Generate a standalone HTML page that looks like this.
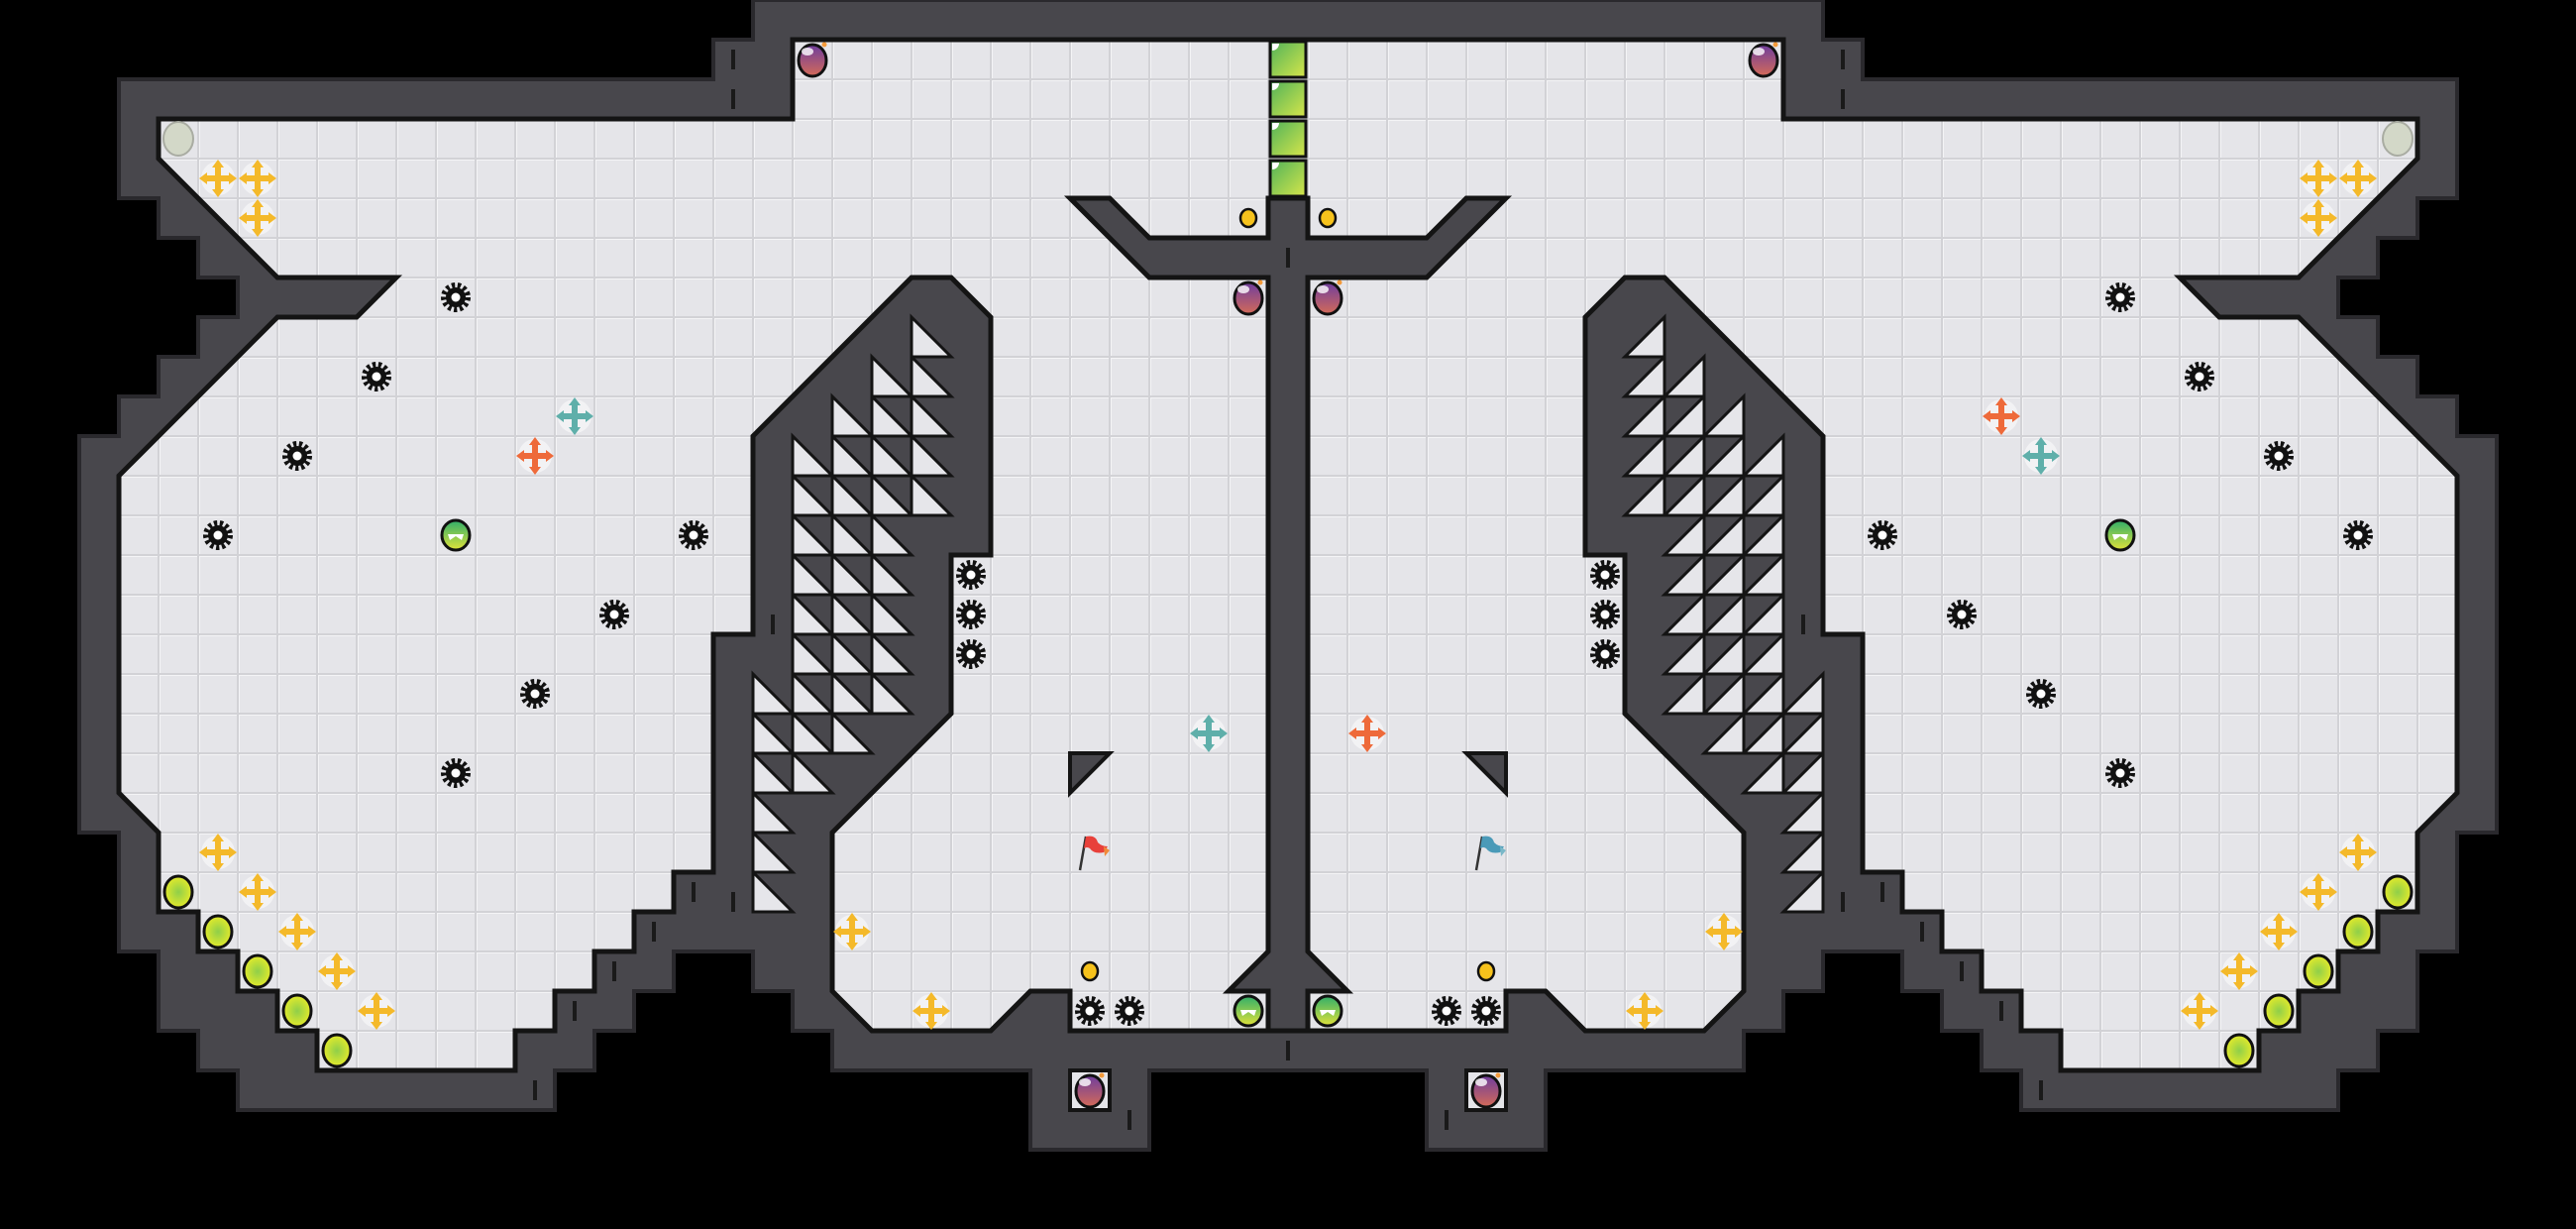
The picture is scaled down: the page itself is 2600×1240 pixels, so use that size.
<!DOCTYPE html>
<html><head><meta charset="utf-8"><style>html,body{margin:0;padding:0;background:#000;width:2600px;height:1240px;overflow:hidden}</style></head>
<body>
<svg id="s" xmlns="http://www.w3.org/2000/svg" width="2600" height="1240" viewBox="0 0 2600 1240">
<defs>
<pattern id="grid" width="40" height="40" patternUnits="userSpaceOnUse">
<rect width="40" height="40" fill="#d2d2d6"/>
<rect x="1" y="1" width="38" height="38" fill="#f4f4f6"/>
<rect x="2" y="2" width="37" height="37" fill="#e5e5e9"/>
</pattern>
<linearGradient id="bomb" x1="0" y1="0" x2="0" y2="1"><stop offset="0" stop-color="#6e3d9e"/><stop offset="1" stop-color="#d46a58"/></linearGradient>
<linearGradient id="mon" x1="0" y1="0" x2="0" y2="1"><stop offset="0" stop-color="#2fae6a"/><stop offset="1" stop-color="#e0e23a"/></linearGradient>
<linearGradient id="blk" x1="0" y1="0" x2="1" y2="1"><stop offset="0" stop-color="#4fb25a"/><stop offset="1" stop-color="#d8e64a"/></linearGradient>
<radialGradient id="yg"><stop offset="0" stop-color="#8fcf4a"/><stop offset="1" stop-color="#e4ea2a"/></radialGradient>
</defs>
</svg>
<script>
const NS='http://www.w3.org/2000/svg';
const svg=document.getElementById('s');
function el(t,a,p){const e=document.createElementNS(NS,t);for(const k in a)e.setAttribute(k,a[k]);(p||svg).appendChild(e);return e;}
function full(L){const R=L.slice(1,-1).reverse().map(([x,y])=>[2600-x,y]);return L.concat(R).map(p=>p.join(',')).join(' ');}
const hullL=[[1300,0],[760,0],[760,40],[720,40],[720,80],[120,80],[120,200],[160,200],[160,240],[200,240],[200,280],[240,280],[240,320],[200,320],[200,360],[160,360],[160,400],[120,400],[120,440],[80,440],[80,840],[120,840],[120,960],[160,960],[160,1040],[200,1040],[200,1080],[240,1080],[240,1120],[560,1120],[560,1080],[600,1080],[600,1040],[640,1040],[640,1000],[680,1000],[680,960],[760,960],[760,1000],[800,1000],[800,1040],[840,1040],[840,1080],[1040,1080],[1040,1160],[1160,1160],[1160,1080],[1300,1080]];
const floorL=[[1300,40],[800,40],[800,120],[160,120],[160,160],[280,280],[400,280],[360,320],[280,320],[120,480],[120,800],[160,840],[160,920],[200,920],[200,960],[240,960],[240,1000],[280,1000],[280,1040],[320,1040],[320,1080],[520,1080],[520,1040],[560,1040],[560,1000],[600,1000],[600,960],[640,960],[640,920],[680,920],[680,880],[720,880],[720,640],[760,640],[760,440],[920,280],[960,280],[1000,320],[1000,560],[960,560],[960,720],[840,840],[840,1000],[880,1040],[1000,1040],[1040,1000],[1080,1000],[1080,1040],[1300,1040]];
el('polygon',{points:full(hullL),fill:'#48474c',stroke:'#2a292d','stroke-width':4});
el('polygon',{points:full(floorL),fill:'url(#grid)',stroke:'#141414','stroke-width':5,'stroke-linejoin':'miter'});
[[1080,1080],[1480,1080]].forEach(([x,y])=>el('rect',{x:x,y:y,width:40,height:40,fill:'url(#grid)',stroke:'#141414','stroke-width':4}));
el('polygon',{points:'1080,200 1120,200 1160,240 1280,240 1280,200 1320,200 1320,240 1440,240 1480,200 1520,200 1440,280 1320,280 1320,960 1360,1000 1320,1000 1320,1040 1280,1040 1280,1000 1240,1000 1280,960 1280,280 1160,280',fill:'#48474c',stroke:'#141414','stroke-width':5});
el('polygon',{points:'1080,760 1120,760 1080,800',fill:'#48474c',stroke:'#141414','stroke-width':4});
el('polygon',{points:'1520,760 1480,760 1520,800',fill:'#48474c',stroke:'#141414','stroke-width':4});
const tri={8:[23],9:[22,23],10:[21,22,23],11:[20,21,22,23],12:[20,21,22,23],13:[20,21,22],14:[20,21,22],15:[20,21,22],16:[20,21,22],17:[19,20,21,22],18:[19,20,21],19:[19,20],20:[19],21:[19],22:[19]};
for(const r in tri){tri[r].forEach(c=>{const x=c*40,y=r*40;
el('polygon',{points:`${x},${y} ${x},${y+40} ${x+40},${y+40}`,fill:'#e6e6ea',stroke:'#141414','stroke-width':3});
const X=2600-x;el('polygon',{points:`${X},${y} ${X},${y+40} ${X-40},${y+40}`,fill:'#e6e6ea',stroke:'#141414','stroke-width':3});});}
[[740,50,70],[740,90,110],[1300,250,270],[1300,1050,1070],[700,890,910],[660,930,950],[620,970,990],[580,1010,1030],[540,1090,1110],[780,620,640],[740,900,920],[1140,1120,1140]].forEach(([x,a,b])=>{el('line',{x1:x,y1:a,x2:x,y2:b,stroke:'#1a1a1a','stroke-width':4});el('line',{x1:2600-x,y1:a,x2:2600-x,y2:b,stroke:'#1a1a1a','stroke-width':4});});
const C=c=>c*40+20;
function gear(c,r){const x=C(c),y=C(r);el('circle',{cx:x,cy:y,r:12,fill:'none',stroke:'#111','stroke-width':6,'stroke-dasharray':'3.2 2.6'});el('circle',{cx:x,cy:y,r:10,fill:'#111'});el('circle',{cx:x,cy:y,r:4.5,fill:'#fff'});}
function cross(c,r,col){const x=C(c),y=C(r);el('circle',{cx:x,cy:y,r:17,fill:'#ffffff',opacity:.5});
el('line',{x1:x-12,y1:y,x2:x+12,y2:y,stroke:col,'stroke-width':6});el('line',{x1:x,y1:y-12,x2:x,y2:y+12,stroke:col,'stroke-width':6});
el('polygon',{points:`${x-19},${y} ${x-11},${y-6} ${x-11},${y+6}`,fill:col});el('polygon',{points:`${x+19},${y} ${x+11},${y-6} ${x+11},${y+6}`,fill:col});
el('polygon',{points:`${x},${y-19} ${x-6},${y-11} ${x+6},${y-11}`,fill:col});el('polygon',{points:`${x},${y+19} ${x-6},${y+11} ${x+6},${y+11}`,fill:col});}
function bomb(c,r){const x=C(c),y=C(r);el('ellipse',{cx:x,cy:y+1,rx:14,ry:16,fill:'url(#bomb)',stroke:'#111','stroke-width':3});el('ellipse',{cx:x-5,cy:y-8,rx:6,ry:4,fill:'#fff',opacity:.8});el('circle',{cx:x+12,cy:y-15,r:2.5,fill:'#f39a3a'});}
function mon(c,r){const x=C(c),y=C(r);el('ellipse',{cx:x,cy:y,rx:14,ry:15,fill:'url(#mon)',stroke:'#111','stroke-width':3});el('polygon',{points:`${x-8},${y-1} ${x+8},${y-1} ${x+6},${y+5} ${x},${y+1} ${x-6},${y+5}`,fill:'#fff'});}
function yg(c,r){const x=C(c),y=C(r);el('ellipse',{cx:x,cy:y,rx:14,ry:16,fill:'url(#yg)',stroke:'#111','stroke-width':3});}
function gray(c,r){const x=C(c),y=C(r);el('ellipse',{cx:x,cy:y,rx:15,ry:17,fill:'#d3d8c8',stroke:'#a9aca2','stroke-width':2});}
function coin(c,r){const x=C(c),y=C(r);el('ellipse',{cx:x,cy:y,rx:8,ry:9,fill:'#f6c21c',stroke:'#111','stroke-width':2.5});}
function flag(c,r,col,col2){const x=C(c),y=C(r);el('line',{x1:x-10,y1:y+18,x2:x-4,y2:y-16,stroke:'#333','stroke-width':2.5});el('path',{d:`M${x-4},${y-16} q10,-2 12,6 q4,4 10,4 l-4,6 q-10,2 -14,-4 q-3,-2 -6,0 z`,fill:col});el('path',{d:`M${x+14},${y-6} l6,4 l-5,6 z`,fill:col2});}
const M=c=>64-c;
const Y='#f4b92a',O='#ee6a3a',T='#5fafaa';
const sym=(f,list,...a)=>list.forEach(([c,r])=>{f(c,r,...a);f(M(c),r,...a);});
sym(gray,[[4,3]]);
sym(cross,[[5,4],[6,4],[6,5],[5,21],[6,22],[7,23],[8,24],[9,25],[21,23],[23,25]],Y);
sym(bomb,[[20,1],[31,7],[27,27]]);
sym(coin,[[31,5],[27,24]]);
sym(gear,[[11,7],[9,9],[7,11],[5,13],[17,13],[15,15],[13,17],[11,19],[24,14],[24,15],[24,16],[27,25],[28,25]]);
sym(mon,[[11,13],[31,25]]);
sym(yg,[[4,22],[5,23],[6,24],[7,25],[8,26]]);
[[14,10],[30,18],[51,11]].forEach(([c,r])=>cross(c,r,T));
[[13,11],[34,18],[50,10]].forEach(([c,r])=>cross(c,r,O));
flag(27,21,'#e8403a','#f08a3a');flag(37,21,'#4a9ab8','#7ab8c8');
for(let r=1;r<=4;r++){const y=r*40+2;el('rect',{x:1282,y:y,width:36,height:36,fill:'url(#blk)',stroke:'#111','stroke-width':3});el('path',{d:`M1284,${y+2} h7 a7,7 0 0 1 -7,7 z`,fill:'#fff'});}
</script>
</body></html>
